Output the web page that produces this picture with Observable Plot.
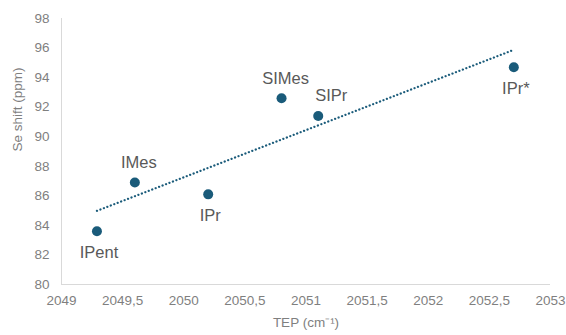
<!DOCTYPE html>
<html><head><meta charset="utf-8">
<script src="https://cdn.jsdelivr.net/npm/d3@7"></script>
<script src="https://cdn.jsdelivr.net/npm/@observablehq/plot@0.6"></script>
<style>body{margin:0;background:#fff}</style>
</head><body><div id="chart"></div>
<script>
const names = ["IPent", "IMes", "IPr", "SIMes", "SIPr", "IPr*"];
const tep = [2049.29, 2049.6, 2050.2, 2050.8, 2051.1, 2052.7];
const seShift = [83.6, 86.9, 86.1, 92.6, 91.4, 94.7];
const xTicks = [2049, 2049.5, 2050, 2050.5, 2051, 2051.5, 2052, 2052.5, 2053];
const yTicks = [80, 82, 84, 86, 88, 90, 92, 94, 96, 98];

const data = names.map((n, i) => ({name: n, x: tep[i], y: seShift[i]}));
const above = new Set(["IMes", "SIMes"]);
const aboveRight = new Set(["SIPr"]);
const below = new Set(["IPent", "IPr", "IPr*"]);
const fmt = d => String(d).replace(".", ",");
const col = "#1a5b7a";
const font = "Liberation Sans, Arial, sans-serif";

const chart = Plot.plot({
  width: 566, height: 335,
  marginLeft: 61, marginRight: 16, marginTop: 18, marginBottom: 51,
  style: {fontFamily: font, background: "#fff"},
  x: {domain: [2049, 2053], ticks: xTicks, tickFormat: fmt, label: null},
  y: {domain: [80, 98], ticks: yTicks, label: null},
  marks: [
    Plot.axisX({ticks: xTicks, tickFormat: fmt, tickSize: 0, tickPadding: 11, fontSize: 13.5, fill: "#7f7f7f"}),
    Plot.axisY({ticks: yTicks, tickSize: 0, tickPadding: 12, fontSize: 13.5, fill: "#7f7f7f"}),
    Plot.ruleX([2049], {stroke: "#d9d9d9", strokeWidth: 1}),
    Plot.ruleY([80], {stroke: "#d9d9d9", strokeWidth: 1}),
    Plot.linearRegressionY(data, {x: "x", y: "y", stroke: col, strokeWidth: 2.2, strokeDasharray: "0.1 3.6", strokeLinecap: "round", ci: 0}),
    Plot.dot(data, {x: "x", y: "y", r: 5, fill: col, stroke: "none"}),
    Plot.text(data.filter(d => above.has(d.name)), {x: "x", y: "y", text: "name", dy: -20, dx: 4, fontSize: 16.5, fill: "#595959", style: "letter-spacing:-1.2px"}),
    Plot.text(data.filter(d => aboveRight.has(d.name)), {x: "x", y: "y", text: "name", dy: -20, dx: 13, fontSize: 16.5, fill: "#595959", style: "letter-spacing:-1.2px"}),
    Plot.text(data.filter(d => below.has(d.name)), {x: "x", y: "y", text: "name", dy: 21, dx: 2, fontSize: 16.5, fill: "#595959", style: "letter-spacing:-1.2px"}),
    Plot.text(["TEP (cm\u207B\u00B9)"], {frameAnchor: "bottom", dy: 42, fontSize: 13.5, fill: "#7f7f7f", style: "letter-spacing:-0.6px"}),
    Plot.text(["Se shift (ppm)"], {frameAnchor: "left", dx: -44, rotate: -90, fontSize: 13.5, fill: "#7f7f7f", style: "letter-spacing:-0.6px"})
  ]
});
document.getElementById("chart").append(chart);
</script></body></html>
